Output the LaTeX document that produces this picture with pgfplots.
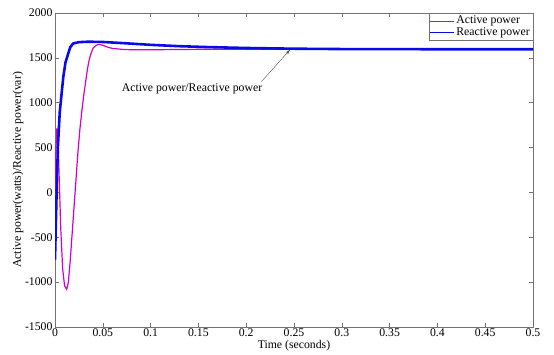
\documentclass[border=0pt]{standalone}
\usepackage{pgfplots}
\pgfplotsset{compat=1.18}
\usepackage{fontspec}
\setmainfont{Liberation Serif}
\usetikzlibrary{arrows.meta}
\definecolor{actc}{RGB}{205,0,205}
\definecolor{reac}{RGB}{10,10,230}
\newcommand{\fs}{\fontsize{11.8}{13}\selectfont}
\begin{document}
\begin{tikzpicture}
\begin{axis}[
  scale only axis,
  width=478bp, height=314bp,
  xmin=0, xmax=0.5, ymin=-1500, ymax=2000,
  xtick={0,0.05,...,0.5},
  xticklabels={0,0.05,0.1,0.15,0.2,0.25,0.3,0.35,0.4,0.45,0.5},
  ytick={-1500,-1000,...,2000},
  yticklabels={-1500,-1000,-500,0,500,1000,1500,2000},
  tick align=inside,
  tick style={black!55, line width=0.5pt},
  major tick length=4bp,
  axis line style={black!55, line width=0.7pt},
  tick label style={font=\fs},
  xticklabel style={yshift=1.5bp},
  yticklabel style={xshift=1bp},
  xlabel={Time (seconds)},
  ylabel={Active power(watts)/Reactive power(var)},
  every axis x label/.style={at={(axis description cs:0.5,-0.0605)}, anchor=center, font=\fs},
  every axis y label/.style={at={(axis description cs:-0.0774,0.5)}, anchor=center, rotate=90, font=\fs},
  legend style={at={(1,1)}, anchor=north east, font=\fs,
    draw=black!55, inner sep=1pt, row sep=-1.5pt},
  legend cell align=left,
  legend image code/.code={\draw[#1, line width=0.5pt] (0cm,0cm) -- (0.85cm,0cm);},
]
\addplot[actc, line width=1.2pt] coordinates {
(0,0) (0.001,500) (0.002,720) (0.003,650) (0.004,300) (0.006,-400)
(0.008,-850) (0.010,-1040) (0.0122,-1080) (0.014,-1000) (0.016,-750)
(0.018,-450) (0.020,-150) (0.022,150) (0.024,450) (0.026,700)
(0.028,900) (0.030,1080) (0.032,1230) (0.034,1380) (0.036,1490)
(0.038,1560) (0.040,1610) (0.043,1640) (0.046,1650) (0.05,1640)
(0.055,1620) (0.06,1605) (0.07,1595) (0.08,1590) (0.1,1590)
(0.15,1595) (0.2,1595) (0.3,1595) (0.4,1595) (0.5,1595)
};
\addlegendentry{Active power}
\addplot[reac, line width=2.6pt] coordinates {
(0,-750) (0.0017,0) (0.003,500) (0.005,900) (0.0087,1290)
(0.011,1450) (0.014,1553) (0.016,1620) (0.019,1660) (0.025,1675)
(0.035,1680) (0.05,1677) (0.07,1665) (0.1,1645) (0.13,1630)
(0.16,1620) (0.2,1610) (0.25,1602) (0.3,1598) (0.4,1596) (0.5,1596)
};
\addlegendentry{Reactive power}
\node[font=\fs] at (axis cs:0.1433,1154) {Active power/Reactive power};
\draw[black!70, line width=0.4pt, -{Stealth[length=5bp,width=3bp]}] (axis cs:0.216,1236) -- (axis cs:0.2458,1590);
\end{axis}
\path ([shift={(-55bp,-27bp)}]current axis.south west) rectangle ([shift={(21bp,13bp)}]current axis.north east);
\end{tikzpicture}
\end{document}
